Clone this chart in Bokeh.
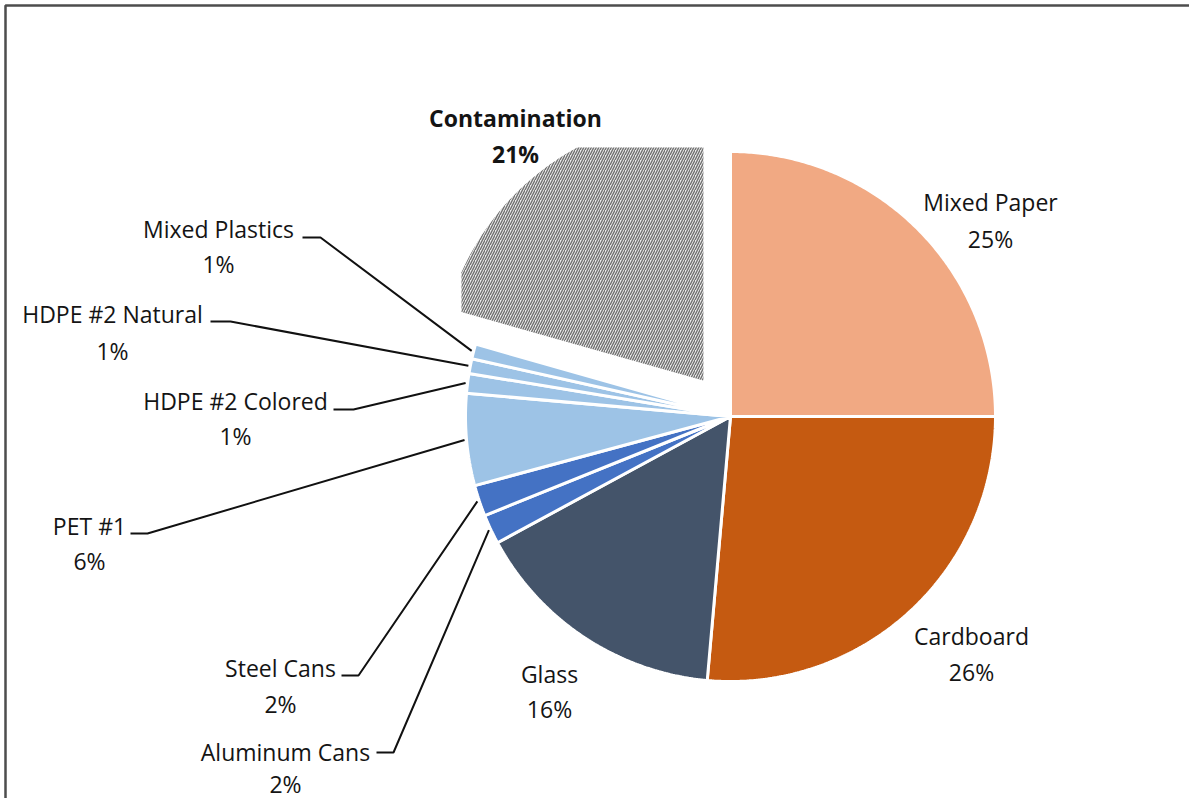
import numpy as np
from bokeh.plotting import figure
from bokeh.models import Range1d
from bokeh.core.properties import value
from bokeh.embed import file_html
from bokeh.resources import INLINE

# ---------------- data ----------------
categories = ["Mixed Paper", "Cardboard", "Glass", "Aluminum Cans", "Steel Cans",
              "PET #1", "HDPE #2 Colored", "HDPE #2 Natural", "Mixed Plastics",
              "Contamination"]
shares = [25.0, 26.4, 15.7, 1.8, 1.9, 5.6, 1.2, 0.9, 0.9, 20.6]
pct_labels = [f"{round(s)}%" for s in shares]

# ---------------- styles / layout ----------------
colors = ["#F1A983", "#C55A11", "#44546A", "#4472C4", "#4472C4",
          "#9DC3E6", "#9DC3E6", "#9DC3E6", "#9DC3E6", "#FFFFFF"]
exploded = "Contamination"
CX, CY, R = 730.0, 416.0, 265.0
EXPLODE = 45.0
CLIP_PAD = 4.0
FONT = "Open Sans"
FSIZE = "23px"
TXT = "#141414"

# label centres (x, name line y, pct line y)
label_pos = {
    "Mixed Paper": (990, 201, 238),
    "Cardboard": (971, 635, 671),
    "Glass": (549, 673, 708),
    "Aluminum Cans": (285, 751, 783),
    "Steel Cans": (280, 667, 703),
    "PET #1": (89, 525, 560),
    "HDPE #2 Colored": (235, 400, 435),
    "HDPE #2 Natural": (112, 313, 350),
    "Mixed Plastics": (218, 228, 263),
    "Contamination": (515, 117, 153),
}
# leader elbows (start of horizontal tick, elbow)
leader_elbow = {
    "Mixed Plastics": ((302, 237), (320, 237)),
    "HDPE #2 Natural": ((210, 321), (230, 321)),
    "HDPE #2 Colored": ((333, 409), (353, 409)),
    "PET #1": ((130, 533), (147, 533)),
    "Steel Cans": ((341, 675), (358, 675)),
    "Aluminum Cans": ((376, 752), (393, 752)),
}


def wedge(a0, a1, cx, cy, r):
    n = max(int(abs(a1 - a0) * 2), 4)
    t = np.radians(np.linspace(a0, a1, n))
    xs = np.concatenate([[cx], cx + r * np.sin(t), [cx]])
    ys = np.concatenate([[cy], cy - r * np.cos(t), [cy]])
    return list(xs), list(ys)


def clip_half(pts, inside, inter):
    out = []
    for i in range(len(pts)):
        cur, prev = pts[i], pts[i - 1]
        if inside(cur):
            if not inside(prev):
                out.append(inter(prev, cur))
            out.append(cur)
        elif inside(prev):
            out.append(inter(prev, cur))
    return out


def clip_box(xs, ys, xmin, ymin):
    pts = list(zip(xs, ys))

    def ix(p, q):
        t = (xmin - p[0]) / (q[0] - p[0])
        return (xmin, p[1] + t * (q[1] - p[1]))

    def iy(p, q):
        t = (ymin - p[1]) / (q[1] - p[1])
        return (p[0] + t * (q[0] - p[0]), ymin)

    pts = clip_half(pts, lambda p: p[0] >= xmin, ix)
    pts = clip_half(pts, lambda p: p[1] >= ymin, iy)
    return [p[0] for p in pts], [p[1] for p in pts]


p = figure(width=1189, height=798, x_range=Range1d(0, 1189), y_range=Range1d(798, 0),
           x_axis_type=None, y_axis_type=None, output_backend="svg",
           toolbar_location=None, min_border=0)
p.grid.visible = False
p.outline_line_color = None
p.background_fill_color = "white"

total = sum(shares)
cum = np.concatenate([[0], np.cumsum(shares)]) / total * 360.0
mids = {}
xs_list, ys_list, cols = [], [], []
for i, cat in enumerate(categories):
    a0, a1 = cum[i], cum[i + 1]
    mids[cat] = (a0 + a1) / 2
    if cat == exploded:
        m = np.radians(mids[cat])
        cx = CX + EXPLODE * np.sin(m)
        cy = CY - EXPLODE * np.cos(m)
        xs, ys = wedge(a0, a1, cx, cy, R)
        xs, ys = clip_box(xs, ys, CX - R - CLIP_PAD, CY - R - CLIP_PAD)
        p.patch(xs, ys, fill_color="#ececec", line_color=None,
                hatch_pattern="/", hatch_color="#707070", hatch_scale=5,
                hatch_weight=1.4)
    else:
        xs, ys = wedge(a0, a1, CX, CY, R)
        xs_list.append(xs)
        ys_list.append(ys)
        cols.append(colors[i])

p.patches(xs_list, ys_list, fill_color=cols, line_color="white", line_width=3)

# leader lines
lx, ly = [], []
for cat, (s, e) in leader_elbow.items():
    m = np.radians(mids[cat])
    end = (CX + (R + 2) * np.sin(m), CY - (R + 2) * np.cos(m))
    lx.append([s[0], e[0], end[0]])
    ly.append([s[1], e[1], end[1]])
p.multi_line(lx, ly, line_color="#111111", line_width=2)

# labels
names, pcts, tx, ty1, ty2 = [], [], [], [], []
for i, cat in enumerate(categories):
    if cat == exploded:
        continue
    x, y1, y2 = label_pos[cat]
    names.append(cat)
    pcts.append(pct_labels[i])
    tx.append(x)
    ty1.append(y1)
    ty2.append(y2)
for ys_, txt in ((ty1, names), (ty2, pcts)):
    p.text(x=tx, y=ys_, text=txt, text_font=value(FONT), text_font_size=FSIZE,
           text_align="center", text_baseline="middle", text_color=TXT)

ci = categories.index(exploded)
x, y1, y2 = label_pos[exploded]
p.text(x=[x, x], y=[y1, y2], text=[exploded, pct_labels[ci]], text_font=value(FONT),
       text_font_size=FSIZE, text_font_style="bold", text_align="center",
       text_baseline="middle", text_color=TXT)

# chart border (top and left visible in the reference)
p.multi_line([[5, 5, 1189]], [[798, 5, 5]], line_color="#4d4d4d", line_width=2.5)

open("out.html", "w").write(file_html(p, INLINE))
